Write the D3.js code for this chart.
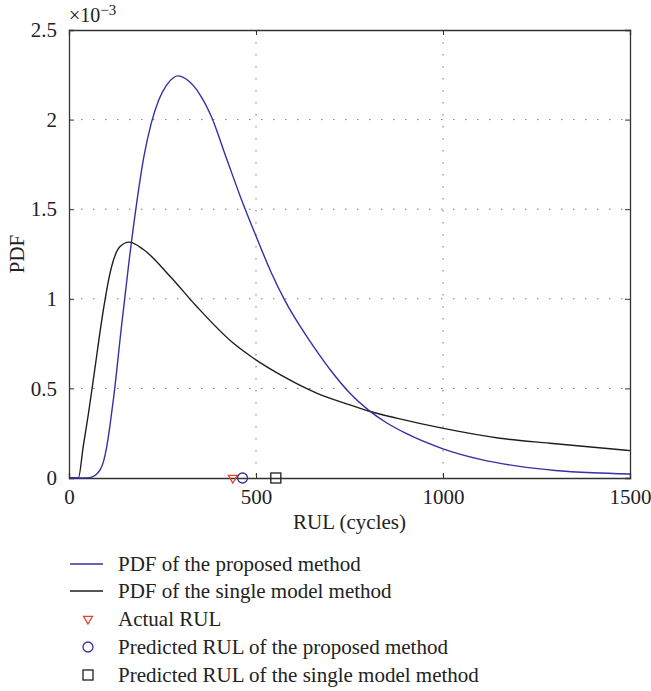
<!DOCTYPE html>
<html>
<head>
<meta charset="utf-8">
<script src="https://cdn.jsdelivr.net/npm/d3@7"></script>
<style>
  body { margin: 0; background: #fff; }
</style>
</head>
<body>
<svg id="chart" width="651" height="691"></svg>
<script>
// RUL values (cycles) and PDF values (x 10^-3)
const proposedX = [0, 30, 55, 70, 83, 92, 101, 110, 120, 140, 160, 180, 200, 220, 240, 260, 280, 290, 320, 350, 380, 420, 460, 500, 540, 580, 620, 660, 700, 750, 800, 850, 900, 1000, 1100, 1200, 1300, 1400, 1500];
const proposedY = [0, 0, 0.002, 0.015, 0.045, 0.09, 0.175, 0.30, 0.46, 0.84, 1.20, 1.52, 1.79, 1.98, 2.11, 2.19, 2.235, 2.244, 2.215, 2.14, 2.02, 1.79, 1.56, 1.35, 1.15, 0.98, 0.84, 0.715, 0.60, 0.476, 0.38, 0.307, 0.25, 0.163, 0.104, 0.066, 0.042, 0.029, 0.022];

const singleX = [0, 25, 38, 52, 65, 92, 110, 136, 161, 199, 270, 341, 439, 484, 573, 662, 751, 805, 876, 998, 1152, 1286, 1500];
const singleY = [0, 0, 0.175, 0.36, 0.548, 0.94, 1.146, 1.29, 1.316, 1.275, 1.126, 0.958, 0.753, 0.682, 0.567, 0.474, 0.408, 0.371, 0.334, 0.278, 0.222, 0.194, 0.153];

const actualRUL = 438;
const predProposed = 464;
const predSingle = 553;

const xTicks = [0, 500, 1000, 1500];
const yTicks = [0, 0.5, 1, 1.5, 2, 2.5];

const legendLabels = [
  'PDF of the proposed method',
  'PDF of the single model method',
  'Actual RUL',
  'Predicted RUL of the proposed method',
  'Predicted RUL of the single model method'
];

const font = '"Liberation Serif", "DejaVu Serif", serif';
const blue = '#3430a6', black = '#1e1e1e', red = '#e8402a';
const plot = {left: 69, right: 630, top: 30, bottom: 478};

const svg = d3.select('#chart')
  .attr('font-family', font)
  .style('font-family', font);

const x = d3.scaleLinear().domain([0, 1500]).range([plot.left, plot.right]);
const y = d3.scaleLinear().domain([0, 2.5]).range([plot.bottom, plot.top]);

// grid
svg.append('g')
  .selectAll('line')
  .data(xTicks.slice(1, -1))
  .join('line')
    .attr('x1', d => x(d)).attr('x2', d => x(d))
    .attr('y1', plot.top).attr('y2', plot.bottom)
    .attr('stroke', '#777').attr('stroke-dasharray', '1.5,10.5');
svg.append('g')
  .selectAll('line')
  .data(yTicks.slice(1, -1))
  .join('line')
    .attr('x1', plot.left).attr('x2', plot.right)
    .attr('y1', d => y(d)).attr('y2', d => y(d))
    .attr('stroke', '#777').attr('stroke-dasharray', '1.5,10.5');

// axes (ticks pointing in)
const axes = [
  svg.append('g')
    .attr('transform', `translate(0,${plot.bottom})`)
    .call(d3.axisBottom(x).tickValues(xTicks).tickSize(-5).tickPadding(11).tickFormat(d3.format('d'))),
  svg.append('g')
    .attr('transform', `translate(${plot.left},0)`)
    .call(d3.axisLeft(y).tickValues(yTicks).tickSize(-5).tickPadding(12).tickFormat(d => d)),
  svg.append('g')
    .attr('transform', `translate(${plot.right},0)`)
    .call(d3.axisRight(y).tickValues(yTicks).tickSize(-5).tickFormat('')),
  svg.append('g')
    .attr('transform', `translate(0,${plot.top})`)
    .call(d3.axisTop(x).tickValues(xTicks).tickSize(-5).tickFormat(''))
];
axes.forEach(g => g.attr('font-family', font).attr('font-size', 21));

svg.selectAll('.domain').attr('stroke', '#333').attr('stroke-width', 1.3);
svg.selectAll('.tick line').attr('stroke', '#333');
svg.selectAll('.tick text').attr('fill', '#222');

// curves
const line = d3.line()
  .x(d => x(d[0]))
  .y(d => y(d[1]))
  .curve(d3.curveMonotoneX);

svg.append('path')
  .datum(singleX.map((v, i) => [v, singleY[i]]))
  .attr('d', line)
  .attr('fill', 'none').attr('stroke', black).attr('stroke-width', 1.4);

svg.append('path')
  .datum(proposedX.map((v, i) => [v, proposedY[i]]))
  .attr('d', line)
  .attr('fill', 'none').attr('stroke', blue).attr('stroke-width', 1.4);

// markers
function marker(g, kind, cx, cy) {
  if (kind === 'tri') {
    g.append('path')
      .attr('d', d3.symbol(d3.symbolTriangle2, 55)())
      .attr('transform', `translate(${cx},${cy}) rotate(180)`)
      .attr('fill', 'none').attr('stroke', red).attr('stroke-width', 1.3);
  } else if (kind === 'circ') {
    g.append('circle').attr('cx', cx).attr('cy', cy).attr('r', 5)
      .attr('fill', 'none').attr('stroke', blue).attr('stroke-width', 1.3);
  } else {
    g.append('rect').attr('x', cx - 5).attr('y', cy - 5).attr('width', 10).attr('height', 10)
      .attr('fill', 'none').attr('stroke', black).attr('stroke-width', 1.3);
  }
}
const mk = svg.append('g');
marker(mk, 'tri', x(actualRUL), y(0));
marker(mk, 'circ', x(predProposed), y(0));
marker(mk, 'sq', x(predSingle), y(0));

// axis labels
svg.append('text')
  .attr('x', (plot.left + plot.right) / 2).attr('y', 529)
  .attr('text-anchor', 'middle').attr('font-size', 21).attr('fill', '#222')
  .text('RUL (cycles)');
svg.append('text')
  .attr('transform', `translate(24,${(plot.top + plot.bottom) / 2}) rotate(-90)`)
  .attr('text-anchor', 'middle').attr('font-size', 21).attr('fill', '#222')
  .text('PDF');
const expo = svg.append('text').attr('x', 69).attr('y', 22).attr('font-size', 20).attr('fill', '#222');
expo.append('tspan').text('×10');
expo.append('tspan').attr('dy', -7).attr('font-size', 15).text('−3');

// legend
const legY = [564, 591, 619, 647, 675];
const leg = svg.append('g');
legendLabels.forEach((lab, i) => {
  const ly = legY[i];
  if (i === 0 || i === 1) {
    leg.append('line').attr('x1', 70).attr('x2', 103).attr('y1', ly).attr('y2', ly)
      .attr('stroke', i === 0 ? blue : black).attr('stroke-width', 1.4);
  } else {
    marker(leg, ['tri', 'circ', 'sq'][i - 2], 88, ly);
  }
  leg.append('text').attr('x', 118).attr('y', ly + 7)
    .attr('font-size', 21).attr('fill', '#222').text(lab);
});
</script>
</body>
</html>
